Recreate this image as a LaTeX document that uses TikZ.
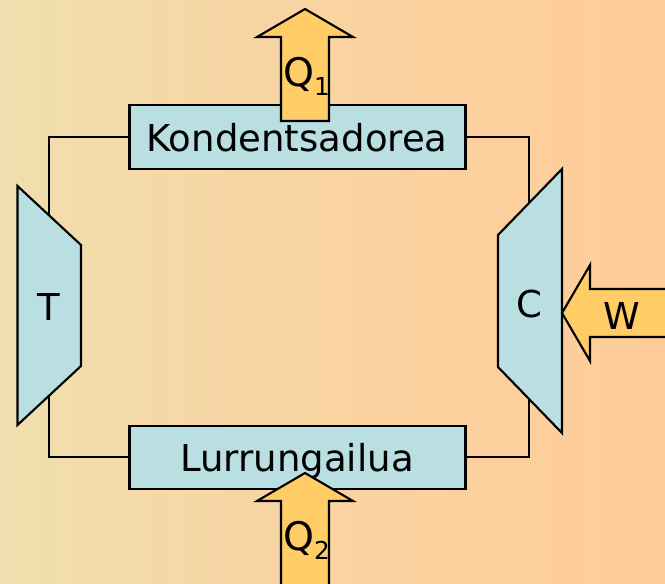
\documentclass[tikz,border=0pt]{standalone}
\usepackage{fontspec}
\setmainfont{DejaVu Sans}
\definecolor{boxblue}{HTML}{B9DFE3}
\definecolor{arrowfill}{HTML}{FFCC66}
\definecolor{bgleft}{HTML}{F0DFAE}
\definecolor{bgmid}{HTML}{F9D3A0}
\definecolor{bgright}{HTML}{FFCC99}
\newcommand{\lowsub}[1]{\raisebox{-7pt}{\fontsize{18.5}{20}\selectfont #1}}
\tikzset{
  boxnode/.style={draw=black,fill=boxblue,line width=1.6pt,minimum width=252pt,minimum height=47.5pt,inner sep=0pt},
  machine/.style={draw=black,fill=boxblue,line width=1.6pt,line join=miter},
  bigarrow/.style={draw=black,fill=arrowfill,line width=1.6pt,line join=miter},
  pipe/.style={draw=black,line width=1.6pt},
  lbl/.style={inner sep=0pt,font=\fontsize{27.8}{30}\selectfont},
  qlbl/.style={inner sep=0pt,font=\fontsize{29.5}{32}\selectfont}
}
\begin{document}
\begin{tikzpicture}[x=0.75pt,y=-0.75pt]
\useasboundingbox (0,0) rectangle (665,583);
\shade[left color=bgleft,right color=bgright,middle color=bgmid] (0,0) rectangle (665,583);
% connector ends inside the machines
\coordinate (tTop) at (49,230);
\coordinate (tBot) at (49,385);
\coordinate (cTop) at (529,220);
\coordinate (cBot) at (529,385);
% boxes
\node[boxnode,anchor=center] (kond) at (297.5,137) {};
\node[boxnode,anchor=center] (lurr) at (297.5,457.3) {};
\draw[pipe] (kond.west) -| (tTop);
\draw[pipe] (lurr.west) -| (tBot);
\draw[pipe] (kond.east) -| (cTop);
\draw[pipe] (lurr.east) -| (cBot);
% machines
\draw[machine] (17.5,186) -- (81,245) -- (81,366) -- (17.5,425) -- cycle;
\draw[machine] (562,169) -- (498,235) -- (498,367) -- (562,433) -- cycle;
\node[lbl] (tlabel) at (49,307) {T};
\node[lbl] (clabel) at (529.5,304) {C};
% box labels
\node[lbl,anchor=base] (kondtxt) at (297,151) {Kondentsadorea};
\node[lbl,anchor=base] (lurrtxt) at (297,471) {Lurrungailua};
% arrows
\draw[bigarrow] (305,9) -- (353,37) -- (329,37) -- (329,121) -- (281,121) -- (281,37) -- (257,37) -- cycle;
\draw[bigarrow] (305,473) -- (353,501) -- (329,501) -- (329,590) -- (281,590) -- (281,501) -- (257,501) -- cycle;
\draw[bigarrow] (562,313) -- (590,265) -- (590,289) -- (670,289) -- (670,337) -- (590,337) -- (590,361) -- cycle;
\node[qlbl,anchor=base west] (q1) at (283,86) {Q\lowsub{1}};
\node[qlbl,anchor=base west] (q2) at (283,550) {Q\lowsub{2}};
\node[lbl] (w) at (622,316) {W};
\end{tikzpicture}
\end{document}
